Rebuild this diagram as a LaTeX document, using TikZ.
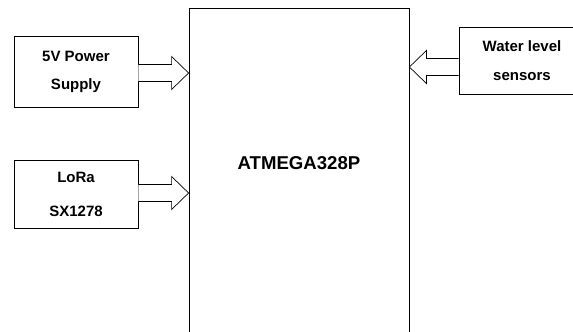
\documentclass[tikz,border=0pt]{standalone}
\usepackage{fontspec}
\setmainfont{Liberation Sans}
\usetikzlibrary{positioning,calc}
\tikzset{
  blk/.style={draw=black, line width=0.8pt, fill=white, inner sep=0pt,
              align=center, font=\bfseries\fontsize{15}{28}\selectfont},
  chip/.style={draw=black, line width=0.8pt, fill=white, minimum width=220pt, minimum height=340pt},
  fat/.style={draw=black, line width=0.7pt, fill=white, line join=miter},
}
% block arrow from #1 to the x of #2
\newcommand{\fatarrow}[2]{%
  \draw[fat] let \p1=(#1), \p2=(#2), \n1={(\x2-\x1)/abs(\x2-\x1)*17} in
    (\x1,\y1+8.5pt) -- (\x2-\n1,\y1+8.5pt) -- (\x2-\n1,\y1+16.5pt) -- (\x2,\y1)
    -- (\x2-\n1,\y1-16.5pt) -- (\x2-\n1,\y1-8.5pt) -- (\x1,\y1-8.5pt);}
\begin{document}
\begin{tikzpicture}[x=1pt,y=-1pt]
  \useasboundingbox (0,0) rectangle (573,332);
  \clip (0,0) rectangle (573,332);
  \fill[white] (0,0) rectangle (573,332);
  \node[chip] (mcu) at (299,178) {};
  \node[font=\bfseries\fontsize{18.6}{22}\selectfont] (mcutxt) at ([yshift=15pt]mcu.center) {ATMEGA328P};
  \node[blk, minimum width=124pt, minimum height=71pt] (pwr) at (76,71.5) {5V Power\\Supply};
  \node[blk, minimum width=124pt, minimum height=68pt, font=\bfseries\fontsize{15}{34}\selectfont] (lora) at (76,194) {LoRa\\SX1278};
  \node[blk, minimum width=126pt, minimum height=67pt, font=\bfseries\fontsize{15}{29}\selectfont] (wls) at (522,60.5) {Water level\hspace{4pt}\\sensors\hspace{4pt}};
  \fatarrow{[yshift=-1.5pt]pwr.east}{mcu.west}
  \fatarrow{[yshift=1pt]lora.east}{mcu.west}
  \fatarrow{[yshift=-6.5pt]wls.west}{mcu.east}
\end{tikzpicture}
\end{document}
